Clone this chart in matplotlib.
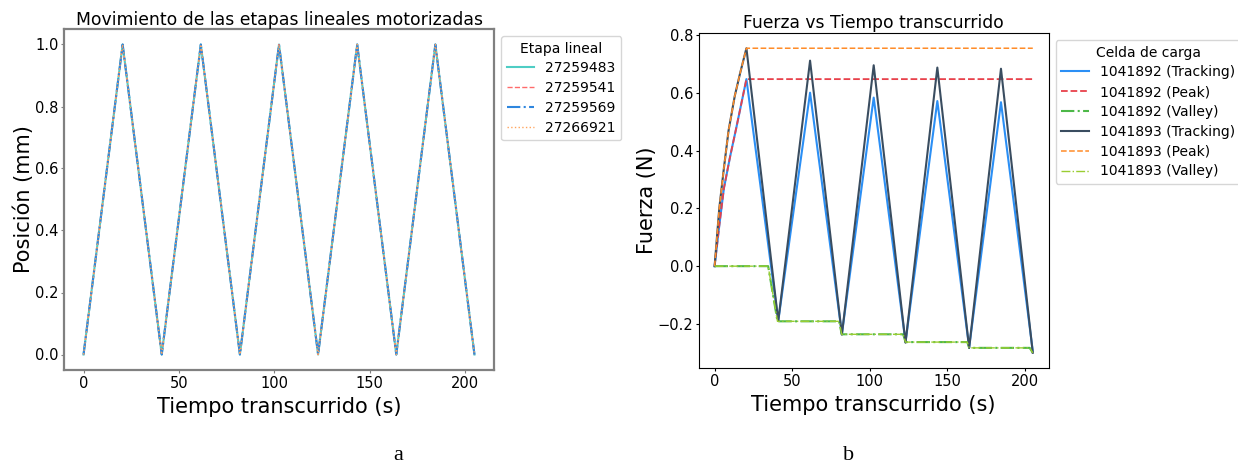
import matplotlib
matplotlib.use("Agg")
import matplotlib.pyplot as plt

# ---------------- data ----------------
# Panel a: linear stage positions (triangle motion)
stage_time = [0, 20.5, 41, 61.5, 82, 102.5, 123, 143.5, 164, 184.5, 205]
stage_pos_27259483 = [0, 1, 0, 1, 0, 1, 0, 1, 0, 1, 0]
stage_pos_27259541 = [0, 1, 0, 1, 0, 1, 0, 1, 0, 1, 0]
stage_pos_27259569 = [0, 1, 0, 1, 0, 1, 0, 1, 0, 1, 0]
stage_pos_27266921 = [0, 1, 0, 1, 0, 1, 0, 1, 0, 1, 0]
stage_labels = ["27259483", "27259541", "27259569", "27266921"]

# Panel b: load cell forces
trk_time_892 = [0, 3, 6, 10, 14, 20.5, 41, 61.5, 82, 102.5, 123, 143.5, 164, 184.5, 205]
trk_force_892 = [0, 0.14, 0.27, 0.38, 0.48, 0.648, -0.19, 0.601, -0.235, 0.584, -0.263, 0.572, -0.282, 0.568, -0.295]
trk_time_893 = [0, 3, 6, 9, 13, 16.5, 20.5, 41, 61.5, 82, 102.5, 123, 143.5, 164, 184.5, 205]
trk_force_893 = [0, 0.20, 0.34, 0.47, 0.59, 0.67, 0.755, -0.19, 0.712, -0.237, 0.696, -0.265, 0.688, -0.283, 0.684, -0.30]

peak_time_892 = [0, 3, 6, 10, 14, 20.5, 205]
peak_force_892 = [0, 0.14, 0.27, 0.38, 0.48, 0.648, 0.648]
peak_time_893 = [0, 3, 6, 9, 13, 16.5, 20.5, 205]
peak_force_893 = [0, 0.20, 0.34, 0.47, 0.59, 0.67, 0.755, 0.755]

valley_time = [0, 34.5, 40.5, 80.2, 81.9, 121.5, 123, 162.8, 164, 203, 205]
valley_force_892 = [0, 0, -0.191, -0.191, -0.236, -0.236, -0.263, -0.263, -0.283, -0.283, -0.30]
valley_force_893 = [0, 0, -0.191, -0.191, -0.236, -0.236, -0.263, -0.263, -0.283, -0.283, -0.30]

cell_labels = ["1041892 (Tracking)", "1041892 (Peak)", "1041892 (Valley)",
               "1041893 (Tracking)", "1041893 (Peak)", "1041893 (Valley)"]

# ---------------- figure ----------------
W, H = 1238, 465
fig = plt.figure(figsize=(W / 100, H / 100), dpi=100)
plt.rcParams['font.family'] = ['DejaVu Sans']


def ax_px(x0, y0, x1, y1):
    return fig.add_axes([x0 / W, 1 - y1 / H, (x1 - x0) / W, (y1 - y0) / H])


TICK_KW = dict(labelsize=10.5, length=2.2, pad=1.8)

# ---------------- panel a ----------------
axa = ax_px(64, 29, 494, 370)
stage_series = [stage_pos_27259483, stage_pos_27259541, stage_pos_27259569, stage_pos_27266921]
stage_styles = [("#4ECDC4", "-", 1.5), ("#FF6B6B", "--", 1.0),
                ("#2E86DE", "-.", 1.5), ("#FFA45C", ":", 1.0)]
for vals, lab, (c, ls, lw) in zip(stage_series, stage_labels, stage_styles):
    axa.plot(stage_time, vals, color=c, ls=ls, lw=lw, label=lab)
axa.set_title("Movimiento de las etapas lineales motorizadas", fontsize=12.4, pad=3)
axa.set_xlabel("Tiempo transcurrido (s)", fontsize=15, labelpad=4.5)
axa.set_ylabel("Posición (mm)", fontsize=15, labelpad=0.5)
axa.tick_params(color="#808080", **TICK_KW)
for s in axa.spines.values():
    s.set_color("#808080")
    s.set_linewidth(1.6)
axa.legend(title="Etapa lineal", loc="upper left", bbox_to_anchor=(1, 1),
           fontsize=10, title_fontsize=10, labelspacing=0.42)

# ---------------- panel b ----------------
axb = ax_px(698.7, 33, 1048.7, 368)
axb.plot(trk_time_892, trk_force_892, color="#2B8FF5", ls="-", lw=1.5, label=cell_labels[0])
axb.plot(peak_time_892, peak_force_892, color="#E8414B", ls="--", lw=1.3, label=cell_labels[1])
axb.plot(valley_time, valley_force_892, color="#4DB848", ls="-.", lw=1.5, label=cell_labels[2])
axb.plot(trk_time_893, trk_force_893, color="#3A4D60", ls="-", lw=1.5, label=cell_labels[3])
axb.plot(peak_time_893, peak_force_893, color="#FF8C28", ls="--", lw=1.1, label=cell_labels[4])
axb.plot(valley_time, valley_force_893, color="#9ACD32", ls="-.", lw=1.0, label=cell_labels[5])
axb.set_title("Fuerza vs Tiempo transcurrido", fontsize=12.3, pad=3.5)
axb.set_xlabel("Tiempo transcurrido (s)", fontsize=15, labelpad=4.5)
axb.set_ylabel("Fuerza (N)", fontsize=15, labelpad=0.5)
axb.tick_params(**TICK_KW)
axb.legend(title="Celda de carga", loc="upper left", bbox_to_anchor=(1, 1),
           fontsize=10, title_fontsize=10, labelspacing=0.42)

# ---------------- sub-captions ----------------
fig.text(398 / W, 1 - 455 / H, "a", ha="center", va="center",
         fontsize=16, family="Liberation Serif")
fig.text(849 / W, 1 - 455 / H, "b", ha="center", va="center",
         fontsize=16, family="Liberation Serif")

fig.savefig("out.png", dpi=100)
